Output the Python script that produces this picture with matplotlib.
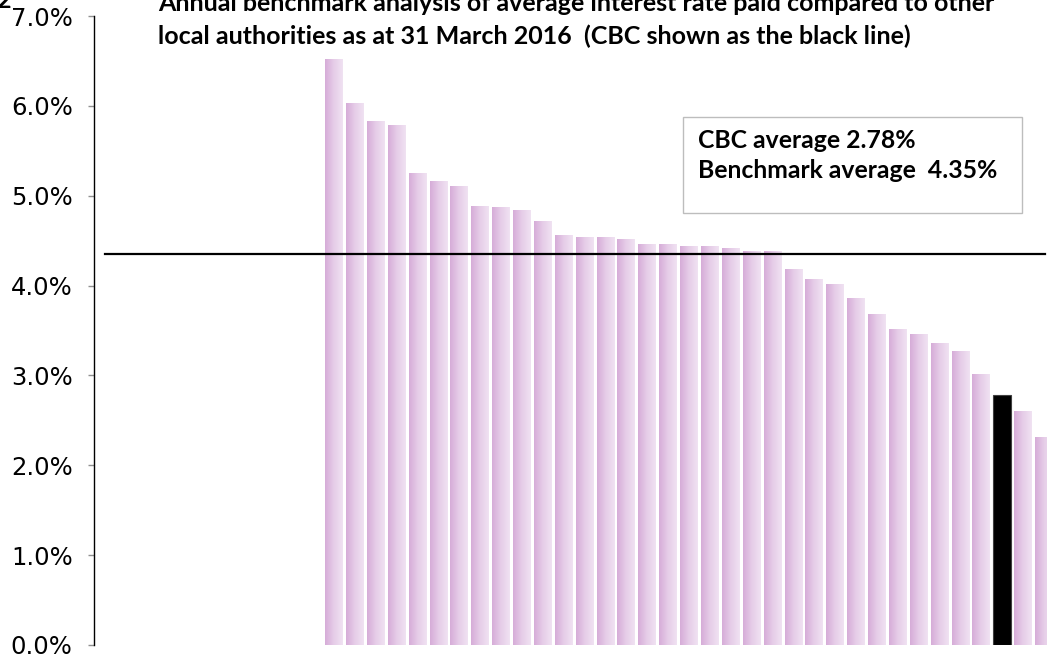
import numpy as np
import matplotlib.pyplot as plt
from matplotlib.colors import LinearSegmentedColormap
from matplotlib.patches import Rectangle
from matplotlib.ticker import FuncFormatter

# average interest rate paid (%) by each authority, sorted high to low
rates = [6.52, 6.03, 5.83, 5.78, 5.25, 5.16, 5.10, 4.88, 4.87, 4.84,
         4.71, 4.56, 4.54, 4.53, 4.51, 4.46, 4.46, 4.44, 4.43, 4.41,
         4.38, 4.38, 4.18, 4.07, 4.01, 3.86, 3.68, 3.51, 3.45, 3.36,
         3.27, 3.01, 2.78, 2.60, 2.31]
cbc_rate = 2.78
benchmark_avg = 4.35
n_blank = 11  # empty category slots before the first bar

title_lines = ["Annual benchmark analysis of average interest rate paid compared to other",
               "local authorities as at 31 March 2016  (CBC shown as the black line)"]
box_lines = ["CBC average %.2f%%" % cbc_rate,
             "Benchmark average  %.2f%%" % benchmark_avg]

W, H = 1047, 655
fig = plt.figure(figsize=(W / 100, H / 100), dpi=100)
ax = fig.add_axes([94 / W, 10 / H, 953 / W, 629 / H])

bar_cmap = LinearSegmentedColormap.from_list("lilac", ["#d6acd8", "#e6cde8", "#f0e2f2"])
grad = np.linspace(0, 1, 64).reshape(1, -1)
bw = 0.86

for i, r in enumerate(rates):
    x = n_blank + i
    if r == cbc_rate:
        ax.add_patch(Rectangle((x - bw / 2, 0), bw, r, facecolor="black",
                               edgecolor="#404040", linewidth=0.8, zorder=3))
    else:
        ax.imshow(grad, cmap=bar_cmap, aspect="auto", interpolation="bilinear",
                  extent=(x - bw / 2, x + bw / 2, 0, r), zorder=2)

ax.set_xlim(-0.5, 45.14)
ax.set_ylim(0, 7)

# benchmark average line
ax.axhline(benchmark_avg, xmin=0.0115, xmax=0.998, color="black", linewidth=1.6,
           zorder=4, clip_on=False)

ax.set_yticks(np.arange(0, 7.5, 1))
ax.yaxis.set_major_formatter(FuncFormatter(lambda v, p: "%.1f%%" % v))
ax.tick_params(axis="y", direction="out", length=4.3, width=1, color="#909090",
               pad=11, labelsize=17.5, labelcolor="black")
ax.set_xticks([])
for s in ["top", "right", "bottom"]:
    ax.spines[s].set_visible(False)
ax.spines["left"].set_color("black")
ax.spines["left"].set_linewidth(1)

bold = dict(family=["Lato", "DejaVu Sans"], fontweight="bold", color="black")
fig.text(158 / W, 1 - 11 / H, title_lines[0], fontsize=18, va="baseline", ha="left", **bold)
fig.text(158 / W, 1 - 44 / H, title_lines[1], fontsize=18, va="baseline", ha="left", **bold)

# text box with both averages
fig.patches.append(Rectangle((683 / W, 1 - 213 / H), 339 / W, 96 / H,
                             transform=fig.transFigure, facecolor="white",
                             edgecolor="#bdbdbd", linewidth=1, zorder=5))
fig.text(698 / W, 1 - 148 / H, box_lines[0], fontsize=17.8, va="baseline", ha="left",
         zorder=6, **bold)
fig.text(698 / W, 1 - 178 / H, box_lines[1], fontsize=17.8, va="baseline", ha="left",
         zorder=6, **bold)

fig.text(4 / W, 1 - 8 / H, "2", fontsize=18, va="baseline", ha="center", **bold)

fig.savefig("out.png", dpi=100)
